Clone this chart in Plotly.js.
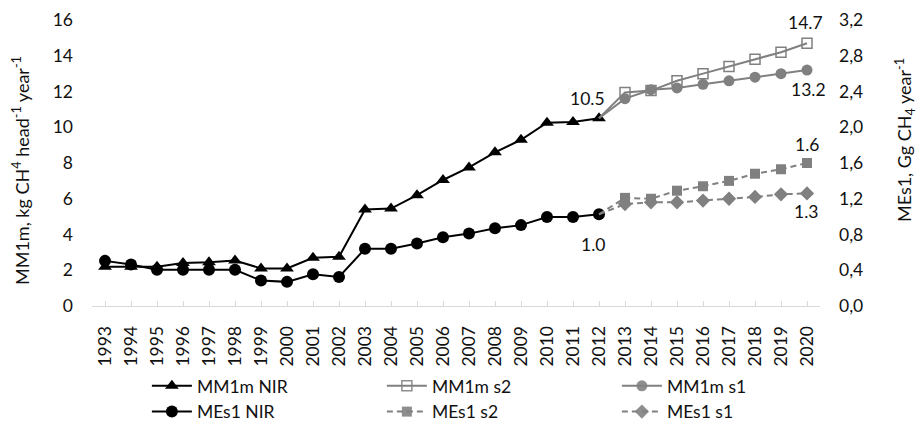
<!DOCTYPE html>
<html>
<head>
<meta charset="utf-8">
<script src="https://cdn.plot.ly/plotly-3.0.1.min.js"></script>
<style>html,body{margin:0;padding:0;background:#fff;}#chart{width:918px;height:422px;}</style>
</head>
<body>
<div id="chart"></div>
<script>
// ---- data ----
const years = ['1993','1994','1995','1996','1997','1998','1999','2000','2001','2002','2003','2004','2005','2006','2007','2008','2009','2010','2011','2012','2013','2014','2015','2016','2017','2018','2019','2020'];
const yearsNIR = years.slice(0, 20);          // 1993-2012
const yearsScen = years.slice(19);            // 2012-2020

const mm1mNIR = [2.2, 2.2, 2.2, 2.4, 2.45, 2.55, 2.1, 2.1, 2.7, 2.75, 5.4, 5.45, 6.2, 7.05, 7.75, 8.6, 9.3, 10.25, 10.3, 10.5];
const mm1mS2  = [10.5, 11.95, 12.05, 12.6, 13.0, 13.4, 13.8, 14.2, 14.7];
const mm1mS1  = [10.5, 11.6, 12.1, 12.2, 12.4, 12.6, 12.8, 13.0, 13.2];

const mes1NIR = [0.505, 0.465, 0.405, 0.405, 0.405, 0.405, 0.285, 0.27, 0.355, 0.325, 0.64, 0.64, 0.70, 0.77, 0.81, 0.87, 0.905, 0.995, 0.995, 1.026];
const mes1S2  = [1.026, 1.21, 1.20, 1.29, 1.34, 1.40, 1.48, 1.53, 1.60];
const mes1S1  = [1.026, 1.14, 1.16, 1.16, 1.18, 1.20, 1.22, 1.25, 1.26];

const names = ['MM1m NIR', 'MM1m s2', 'MM1m s1', 'MEs1 NIR', 'MEs1 s2', 'MEs1 s1'];

// ---- styles ----
const FONT = 'Lato, "Open Sans", sans-serif';
const TXT = '#111111';
const BLACK = '#000000';
const GRAY = '#808080';
const FS = 17.5;
// the shared 2012 starting point of each scenario has no visible marker
const hideFirst = n => Array.from({length: n}, (_, i) => i === 0 ? 0 : 1);

const traces = [
  {x: yearsNIR, y: mm1mNIR, name: names[0], yaxis: 'y', mode: 'lines+markers',
   line: {color: BLACK, width: 2}, marker: {symbol: 'triangle-up', size: 12, color: BLACK}},
  {x: yearsScen, y: mm1mS2, name: names[1], yaxis: 'y', mode: 'lines+markers',
   line: {color: GRAY, width: 2}, marker: {symbol: 'square-open', size: 10, color: GRAY,
   opacity: hideFirst(mm1mS2.length), line: {color: GRAY, width: 1.5}}},
  {x: yearsScen, y: mm1mS1, name: names[2], yaxis: 'y', mode: 'lines+markers',
   line: {color: GRAY, width: 2}, marker: {symbol: 'circle', size: 11, color: GRAY, opacity: hideFirst(mm1mS1.length)}},
  {x: yearsNIR, y: mes1NIR, name: names[3], yaxis: 'y2', mode: 'lines+markers',
   line: {color: BLACK, width: 2}, marker: {symbol: 'circle', size: 12, color: BLACK}},
  {x: yearsScen, y: mes1S2, name: names[4], yaxis: 'y2', mode: 'lines+markers',
   line: {color: GRAY, width: 2, dash: '6px,4px'}, marker: {symbol: 'square', size: 10, color: GRAY, opacity: hideFirst(mes1S2.length)}},
  {x: yearsScen, y: mes1S1, name: names[5], yaxis: 'y2', mode: 'lines+markers',
   line: {color: GRAY, width: 2, dash: '6px,4px'}, marker: {symbol: 'diamond', size: 11, color: GRAY, opacity: hideFirst(mes1S1.length)}}
];

const last = a => a[a.length - 1];
const lab = (xs_, ys_, yref, dx, dy) => ({x: years.indexOf(last(xs_)), y: last(ys_), xref: 'x', yref: yref,
  text: last(ys_).toFixed(1), showarrow: false, xshift: dx, yshift: dy,
  xanchor: 'center', yanchor: 'middle',
  font: {family: FONT, size: FS, color: TXT}});

const annotations = [
  lab(yearsNIR, mm1mNIR, 'y', -12, 20),
  lab(yearsScen, mm1mS2, 'y', -2, 21),
  lab(yearsScen, mm1mS1, 'y', 1, -19),
  lab(yearsNIR, mes1NIR, 'y2', -6, -30),
  lab(yearsScen, mes1S2, 'y2', 0, 19),
  lab(yearsScen, mes1S1, 'y2', -1, -18),
  {x: -0.0975, y: 0.472, xref: 'paper', yref: 'paper', xanchor: 'center', yanchor: 'middle',
   textangle: -90, showarrow: false,
   text: 'MM1m, kg CH<sup>4</sup> head<sup>-1</sup> year<sup>-1</sup>', font: {family: FONT, size: 18, color: TXT}},
  {x: 1.1167, y: 0.58, xref: 'paper', yref: 'paper', xanchor: 'center', yanchor: 'middle',
   textangle: -90, showarrow: false,
   text: 'MEs1, Gg CH<sub>4</sub> year<sup>-1</sup>', font: {family: FONT, size: 18, color: TXT}}
];

const layout = {
  width: 918, height: 422,
  margin: {l: 92, r: 98, t: 20, b: 116},
  paper_bgcolor: '#fff', plot_bgcolor: '#fff',
  separators: ',.',
  font: {family: FONT, size: FS, color: TXT},
  showlegend: true,
  xaxis: {type: 'category', categoryorder: 'array', categoryarray: years, range: [-0.5, 27.5],
    tickangle: -90, showline: true, linecolor: '#d9d9d9', linewidth: 1, ticks: 'inside', ticklen: 5,
    tickcolor: '#d9d9d9', showgrid: false, zeroline: false, ticklabelstandoff: 12,
    tickfont: {family: FONT, size: FS, color: TXT}},
  yaxis: {range: [0, 16], dtick: 2, showgrid: false, zeroline: false, showline: false,
    ticklabelstandoff: 18, tickfont: {family: FONT, size: FS, color: TXT}},
  yaxis2: {range: [0, 3.2], dtick: 0.4, tickformat: '.1f', overlaying: 'y', side: 'right',
    showgrid: false, zeroline: false, showline: false, ticklabelstandoff: 18,
    tickfont: {family: FONT, size: FS, color: TXT}},
  legend: {orientation: 'h', xref: 'container', yref: 'container', x: 0.16, y: 0.128,
    xanchor: 'left', yanchor: 'top', entrywidth: 180, entrywidthmode: 'pixels',
    itemwidth: 40, tracegroupgap: 0,
    font: {family: FONT, size: FS, color: TXT}},
  annotations: annotations
};

Plotly.newPlot('chart', traces, layout, {displayModeBar: false, staticPlot: true});
</script>
</body>
</html>
